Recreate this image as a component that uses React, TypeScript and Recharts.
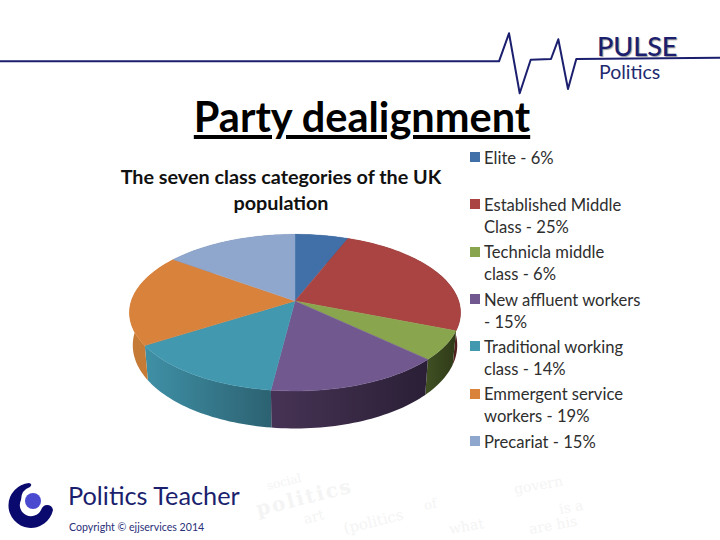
import React from "react";
import { PieChart, Pie } from "recharts";

const categories = ["Elite", "Established Middle Class", "Technicla middle class", "New affluent workers", "Traditional working class", "Emmergent service workers", "Precariat"];
const shares = [6, 25, 6, 15, 14, 19, 15];
const legendLines = [
  ["Elite - 6%", ""],
  ["Established Middle", "Class - 25%"],
  ["Technicla middle", "class - 6%"],
  ["New affluent workers", "- 15%"],
  ["Traditional working", "class - 14%"],
  ["Emmergent service", "workers - 19%"],
  ["Precariat - 15%", ""],
];
const topColors = ["#4170a8", "#a94442", "#89a54e", "#71588f", "#4198af", "#d9823b", "#8fa6cd"];
const wallStops = [
  ["#2c4a70", "#2c4a70"],
  ["#7a302e", "#4e1f1e"],
  ["#3f4f22", "#2f3a18"],
  ["#473355", "#2a1f36"],
  ["#3f90a6", "#2c6272"],
  ["#c57a35", "#c67c38"],
  ["#6a7a96", "#6a7a96"],
];

const rows = categories.map((name, i) => ({ name, value: shares[i] }));

const FONT = "Lato, 'Open Sans', sans-serif";
const NAVY = "#1b1f6e";
const K = 0.1487;
const YS = 76.6 / 165;
const XS = 163.7 / 165;
const DEPTH = 31.9;

function rim(cx: number, cy: number, r: number, deg: number, low: boolean) {
  const a = (deg * Math.PI) / 180;
  const X = Math.sin(a);
  const Y = Math.cos(a);
  const d = 1 + K * Y;
  const x = (r * XS * X) / d;
  const y = (r * YS * Y) / d;
  if (!low) return [cx + x, cy - y];
  return [cx + x * 0.98, cy - y + DEPTH / d];
}

function arcPoints(cx: number, cy: number, r: number, from: number, to: number, low: boolean) {
  const n = Math.max(2, Math.ceil(Math.abs(to - from) / 1.5));
  const out: number[][] = [];
  for (let i = 0; i <= n; i++) out.push(rim(cx, cy, r, from + ((to - from) * i) / n, low));
  return out;
}

const toPath = (pts: number[][]) => pts.map((p, i) => `${i ? "L" : "M"}${p[0].toFixed(2)} ${p[1].toFixed(2)}`).join(" ");

function TopFace(props: any) {
  const { cx, cy, outerRadius, startAngle, endAngle, fill } = props;
  const pts = arcPoints(cx, cy, outerRadius, 90 - startAngle, 90 - endAngle, false);
  return <path d={`M${cx} ${cy} ${toPath(pts).replace("M", "L")} Z`} fill={fill} stroke={fill} strokeWidth={0.4} />;
}

function WallFace(props: any) {
  const { cx, cy, outerRadius, startAngle, endAngle, index } = props;
  const from = 90 - startAngle;
  const to = 90 - endAngle;
  const top = arcPoints(cx, cy, outerRadius, from, to, false);
  const low = arcPoints(cx, cy, outerRadius, from, to, true).reverse();
  const xs = top.map((p) => p[0]);
  const id = `wall-${index}`;
  return (
    <g>
      <defs>
        <linearGradient id={id} gradientUnits="userSpaceOnUse" x1={Math.min(...xs)} x2={Math.max(...xs)} y1={0} y2={0}>
          <stop offset="0" stopColor={wallStops[index][0]} />
          <stop offset="1" stopColor={wallStops[index][1]} />
        </linearGradient>
      </defs>
      <path d={`${toPath(top)} ${toPath(low).replace("M", "L")} Z`} fill={`url(#${id})`} />
    </g>
  );
}

const abs = (left: number, top: number, extra: React.CSSProperties = {}): React.CSSProperties => ({
  position: "absolute",
  left,
  top,
  whiteSpace: "nowrap",
  fontFamily: FONT,
  ...extra,
});

function LegendBlock() {
  return (
    <div>
      {legendLines.map((lines, i) => (
        <div key={i}>
          <div style={abs(470, 152 + i * 47.3, { width: 10, height: 10, background: topColors[i] })} />
          {lines.map((t, j) =>
            t ? (
              <div key={j} style={abs(484, 146.7 + i * 47.3 + j * 22, { fontSize: 16.6, lineHeight: "22px", color: "#2e2e2e" })}>
                {t}
              </div>
            ) : null
          )}
        </div>
      ))}
    </div>
  );
}

export default function App() {
  const colored = rows.map((r, i) => ({ ...r, fill: topColors[i] }));
  return (
    <div style={{ position: "absolute", left: 0, top: 0, width: 720, height: 540, background: "#fff", overflow: "hidden" }}>
      <svg width={720} height={540} style={{ position: "absolute", left: 0, top: 0 }}>
        <polyline
          points="0,61.3 499,61.3 509,33.3 519.7,93.3 530.7,59.7 551,59 558.3,39.3 568,89 576.3,59 720,57.7"
          fill="none"
          stroke={NAVY}
          strokeWidth={2}
          strokeLinejoin="round"
        />
        <path d="M29 483 A22.5 22.5 0 1 0 53 510 Q52 505 47 505 Q43 505 41 510 A11 11 0 0 1 21 500 Q21 490 30 487 Q33 484 29 483 Z" fill="#0a0a6e" />
        <circle cx={33} cy={501} r={8} fill="#4a4ad0" />
        <g fill="#f4f4f4" fontFamily="'DejaVu Serif', serif">
          <text x={268} y={490} fontSize={12} transform="rotate(-14 268 490)">social</text>
          <text x={258} y={516} fontSize={20} fontWeight="bold" letterSpacing={2} transform="rotate(-14 258 516)">politics</text>
          <text x={425} y={510} fontSize={13} transform="rotate(-12 425 510)">of</text>
          <text x={515} y={494} fontSize={14} transform="rotate(-10 515 494)">govern</text>
          <text x={305} y={524} fontSize={14} transform="rotate(-14 305 524)">art</text>
          <text x={345} y={534} fontSize={15} transform="rotate(-14 345 534)">(politics</text>
          <text x={560} y={514} fontSize={14} transform="rotate(-10 560 514)">is a</text>
          <text x={450} y={534} fontSize={14} transform="rotate(-10 450 534)">what</text>
          <text x={530} y={534} fontSize={14} transform="rotate(-10 530 534)">are his</text>
        </g>
      </svg>

      <div style={abs(597, 33, { fontSize: 27, fontWeight: 500, lineHeight: "26px", color: NAVY, textShadow: "1px 1px 1px #999" })}>PULSE</div>
      <div style={abs(599, 62, { fontSize: 19.5, lineHeight: "20px", color: "#1f2a70" })}>Politics</div>

      <div style={abs(362, 91, { transform: "translateX(-50%)", fontSize: 41.5, fontWeight: 700, lineHeight: "50px", color: "#000", textDecoration: "underline" })}>Party dealignment</div>

      <div style={abs(281, 163, { transform: "translateX(-50%)", width: 350, textAlign: "center", whiteSpace: "normal", fontSize: 19.8, fontWeight: 700, lineHeight: "26px", color: "#111" })}>
        The seven class categories of the UK population
      </div>

      <div style={{ position: "absolute", left: 0, top: 0 }}>
        <PieChart width={720} height={540} margin={{ top: 0, right: 0, bottom: 0, left: 0 }}>
          <Pie data={colored} dataKey="value" nameKey="name" cx={295} cy={301} outerRadius={165} startAngle={90} endAngle={-270} isAnimationActive={false} shape={WallFace} legendType="none" stroke="none" />
          <Pie data={colored} dataKey="value" nameKey="name" cx={295} cy={301} outerRadius={165} startAngle={90} endAngle={-270} isAnimationActive={false} shape={TopFace} stroke="none" />
        </PieChart>
      </div>

      <LegendBlock />

      <div style={abs(68, 479, { fontSize: 25.3, lineHeight: "32px", color: NAVY })}>Politics Teacher</div>
      <div style={abs(69, 519, { fontSize: 10.6, lineHeight: "16px", color: "#2a2f78" })}>Copyright © ejjservices 2014</div>
    </div>
  );
}
